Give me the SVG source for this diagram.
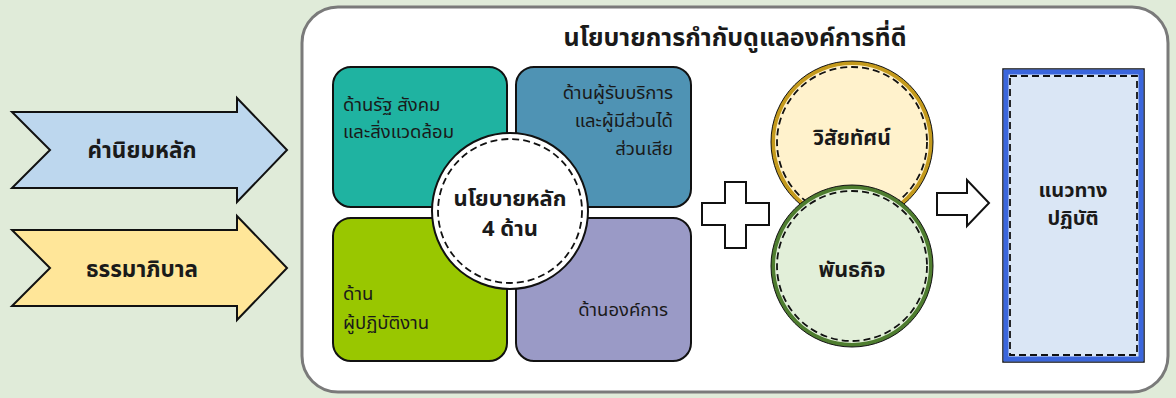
<svg xmlns="http://www.w3.org/2000/svg" width="1176" height="398" viewBox="0 0 1176 398">
<style>
text{font-family:"Noto Sans Thai","Noto Sans","DejaVu Sans",sans-serif;fill:#1a1a1a}
.b{font-weight:bold}
.c{text-anchor:middle}
.r{text-anchor:end}
.q{font-size:18.5px}
.box{stroke:#111;stroke-width:2}
.dash{fill:none;stroke:#111;stroke-width:1.8;stroke-dasharray:7 4}
</style>
<rect width="1176" height="398" fill="#e0ebd9"/>
<rect x="302" y="7" width="866" height="385" rx="36" fill="#fff" stroke="#7a7a7a" stroke-width="3"/>

<g id="arrow-values">
<polygon points="12,112 237,112 237,98 287,150 237,202 237,188 12,188 50,150" fill="#bdd7ee" stroke="#111" stroke-width="2"/>
<text x="142" y="158" class="b c" font-size="22.5">ค่านิยมหลัก</text>
</g>
<g id="arrow-governance">
<polygon points="12,230 237,230 237,216 287,268 237,320 237,306 12,306 50,268" fill="#ffe699" stroke="#111" stroke-width="2"/>
<text x="142" y="277" class="b c" font-size="22.5">ธรรมาภิบาล</text>
</g>

<g id="title">
<text x="735" y="46" class="b c" font-size="25">นโยบายการกำกับดูแลองค์การที่ดี</text>
</g>

<g id="q-state">
<rect x="333" y="67" width="174" height="140" rx="18" fill="#1fb3a1" class="box"/>
<text x="343" y="111" class="q">ด้านรัฐ สังคม</text>
<text x="343" y="138" class="q">และสิ่งแวดล้อม</text>
</g>
<g id="q-service">
<rect x="516" y="67" width="175" height="140" rx="18" fill="#4f93b4" class="box"/>
<text x="673" y="99" class="q r">ด้านผู้รับบริการ</text>
<text x="673" y="127" class="q r">และผู้มีส่วนได้</text>
<text x="673" y="155" class="q r">ส่วนเสีย</text>
</g>
<g id="q-staff">
<rect x="333" y="218" width="174" height="143" rx="18" fill="#99c700" class="box"/>
<text x="343" y="300" class="q">ด้าน</text>
<text x="343" y="329" class="q">ผู้ปฏิบัติงาน</text>
</g>
<g id="q-org">
<rect x="516" y="218" width="175" height="143" rx="18" fill="#9a9ac6" class="box"/>
<text x="668" y="316" class="q r">ด้านองค์การ</text>
</g>
<g id="core">
<circle cx="510" cy="211" r="78" fill="#fff" stroke="#111" stroke-width="2"/>
<circle cx="510" cy="211" r="72" class="dash"/>
<text x="510" y="206" class="b c" font-size="22">นโยบายหลัก</text>
<text x="510" y="236" class="b c" font-size="22">4 ด้าน</text>
</g>

<g id="connectors">
<polygon points="725,182 746,182 746,203 769,203 769,225 746,225 746,248 725,248 725,225 702,225 702,203 725,203" fill="#fff" stroke="#111" stroke-width="2"/>
<polygon points="937,193 967,193 967,180 989,203 967,226 967,215 937,215" fill="#fff" stroke="#111" stroke-width="2"/>
</g>

<g id="vision">
<circle cx="852" cy="142" r="79" fill="#fff2cc" stroke="#c49a1c" stroke-width="4"/>
<circle cx="852" cy="142" r="75" class="dash"/>
<circle cx="852" cy="142" r="81" fill="none" stroke="#111" stroke-width="1"/>
<text x="852" y="145" class="b c" font-size="21">วิสัยทัศน์</text>
</g>
<g id="mission">
<circle cx="852" cy="266" r="79" fill="#e2efd9" stroke="#4e7d2f" stroke-width="4"/>
<circle cx="852" cy="266" r="75" class="dash"/>
<circle cx="852" cy="266" r="81" fill="none" stroke="#111" stroke-width="1"/>
<text x="852" y="277" class="b c" font-size="21.5">พันธกิจ</text>
</g>

<g id="guideline">
<rect x="1003" y="69" width="141" height="293" fill="#dae6f5" stroke="#111" stroke-width="1.5"/>
<rect x="1006" y="72" width="135" height="287" fill="none" stroke="#3b66dc" stroke-width="5"/>
<rect x="1010" y="76" width="127" height="279" class="dash"/>
<text x="1073" y="197" class="b c" font-size="20">แนวทาง</text>
<text x="1073" y="225" class="b c" font-size="20">ปฏิบัติ</text>
</g>
</svg>
